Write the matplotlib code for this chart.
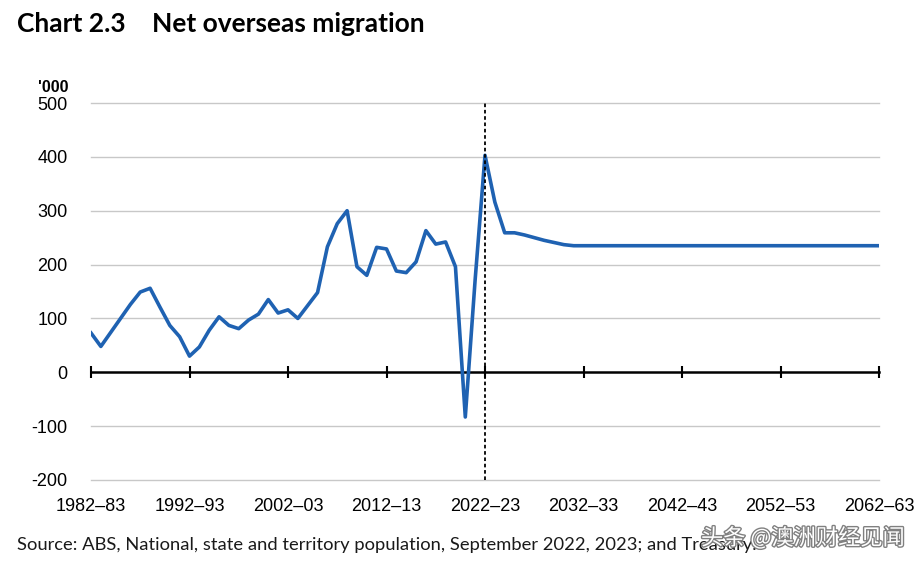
import matplotlib.pyplot as plt
import matplotlib.patheffects as pe

plt.rcParams['axes.unicode_minus'] = False

# financial year start (1982 -> 1982-83)
start_years = list(range(1982, 2063))
# net overseas migration, '000 (actuals to 2021-22, projections after)
nom = [73, 48, 74, 100, 126, 149, 156, 121, 87, 66,
       30, 47, 78, 103, 87, 81, 97, 108, 135, 110,
       116, 100, 124, 148, 233, 276, 300, 196, 180, 232,
       229, 188, 185, 205, 263, 238, 242, 196, -83, 172,
       403, 316, 259, 259, 255, 250, 245, 241, 237, 235,
       235, 235, 235, 235, 235, 235, 235, 235, 235, 235,
       235, 235, 235, 235, 235, 235, 235, 235, 235, 235,
       235, 235, 235, 235, 235, 235, 235, 235, 235, 235,
       235]

tick_years = [1982, 1992, 2002, 2012, 2022, 2032, 2042, 2052, 2062]
tick_labels = ['1982–83', '1992–93', '2002–03', '2012–13', '2022–23',
               '2032–33', '2042–43', '2052–53', '2062–63']
y_ticks = [-200, -100, 0, 100, 200, 300, 400, 500]
projection_start = 2022

W, H = 924, 566
fig = plt.figure(figsize=(W / 100, H / 100), dpi=100)
ax = fig.add_axes([91 / W, 1 - 480 / H, (879 - 91) / W, (480 - 103) / H])

for v in y_ticks:
    if v != 0:
        ax.axhline(v, color='#c8c8c8', lw=1, zorder=1, clip_on=False)

ax.plot(start_years, nom, color='#1f62b2', lw=2.6, solid_joinstyle='round', zorder=3)
ax.axvline(projection_start, color='black', lw=1.3, ls=(0, (2, 1.5)), zorder=4)

ax.set_xlim(1982, 2062)
ax.set_ylim(-200, 500)
ax.set_yticks(y_ticks)
ax.set_yticklabels([str(v) for v in y_ticks], family='Liberation Sans')
ax.set_xticks(tick_years)
ax.tick_params(axis='y', length=0, pad=17, labelsize=13)
ax.tick_params(axis='x', direction='inout', length=9, width=1.5, labelbottom=False)

for s in ['top', 'right', 'left']:
    ax.spines[s].set_visible(False)
ax.spines['bottom'].set_position(('data', 0))
ax.spines['bottom'].set_linewidth(1.8)
ax.spines['bottom'].set_zorder(2)

# labels sit below the plot, not on the zero line
sec = ax.secondary_xaxis(0)
sec.set_xticks(tick_years)
sec.set_xticklabels(tick_labels, family='Liberation Sans')
sec.tick_params(length=0, pad=13, labelsize=13)
sec.spines['bottom'].set_visible(False)

fig.text(17 / W, 1 - 24 / H, 'Chart 2.3', family='Lato', weight='bold', size=19, va='center')
fig.text(152 / W, 1 - 24 / H, 'Net overseas migration', family='Lato', weight='bold', size=19, va='center')
fig.text(38 / W, 1 - 87 / H, "'000", family='Liberation Sans', weight='bold', size=11.5, va='center')

fig.text(17 / W, 1 - 545 / H,
         'Source: ABS, National, state and territory population, September 2022, 2023; and Treasury.',
         family='Lato', size=13.2, va='center', color='#1a1a1a')
# watermark from the screenshot, drawn over the end of the source line as in the original
fig.text(905 / W, 1 - 538 / H, '头条 @澳洲财经见闻', family=['Noto Sans CJK SC', 'DejaVu Sans'],
         size=16, ha='right', va='center', color='white',
         path_effects=[pe.withStroke(linewidth=2, foreground='#808080')])

fig.savefig('out.png', dpi=100)
